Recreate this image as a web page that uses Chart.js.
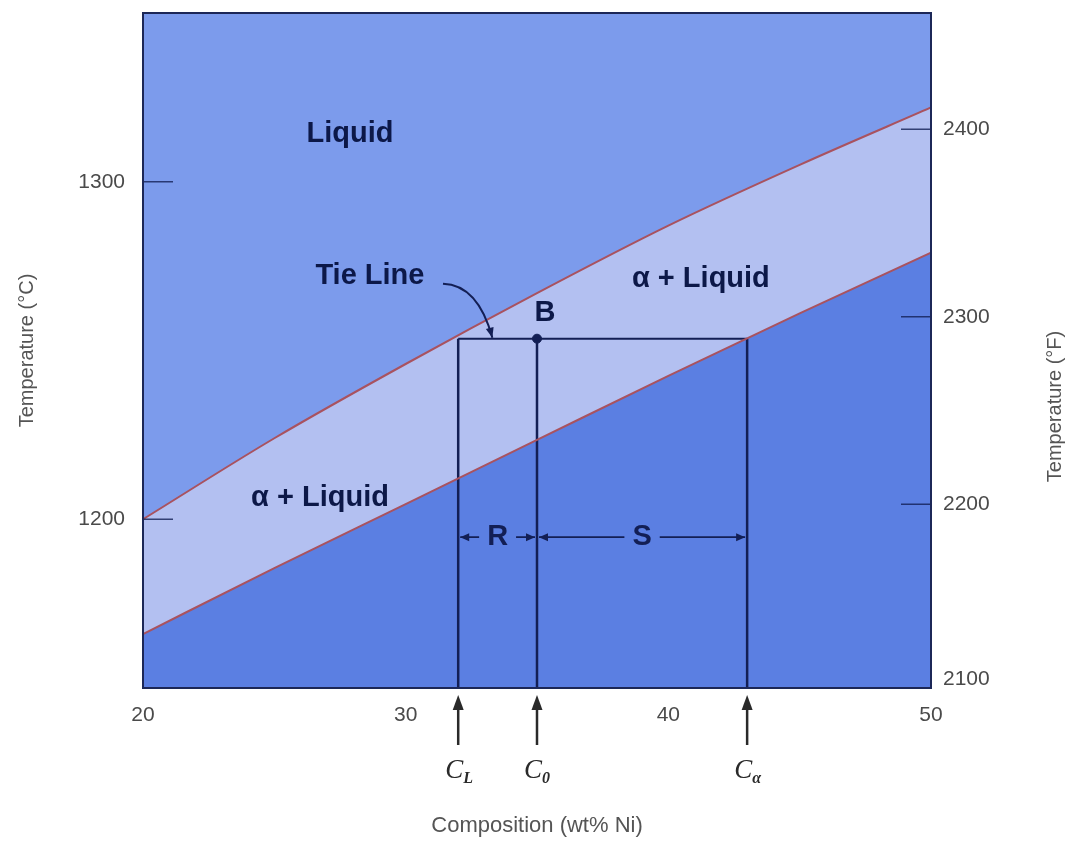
<!DOCTYPE html>
<html>
<head>
<meta charset="utf-8">
<title>Cu–Ni phase diagram: tie line and lever rule</title>
<script src="https://cdn.jsdelivr.net/npm/chart.js@4.4.1/dist/chart.umd.min.js"></script>
<style>
  html, body { margin: 0; padding: 0; background: #ffffff; }
  #wrap { width: 1072px; height: 843px; }
</style>
</head>
<body>
<div id="wrap"><canvas id="chart" width="1072" height="843"></canvas></div>
<script>
// Phase boundaries of the Cu–Ni system (wt% Ni vs °C)
const compositions = [20, 25, 30, 35, 40, 45, 50];
const liquidusC    = [1200, 1224, 1246, 1267, 1287, 1305, 1322];
const solidusC     = [1166, 1185.5, 1204.5, 1223.5, 1242.5, 1261, 1279];

// Tie line at point B and the compositions it reads off
const tieTemp = 1253.5;
const compLiquid = 32;   // C_L
const compOverall = 35;  // C_0
const compAlpha = 43;    // C_alpha
const leverTemp = 1194.7;

// Axis ranges and tick labels
const tempMin = 1150, tempMax = 1350;
const compMin = 20, compMax = 50;
const compTicks = [20, 30, 40, 50];
const celsiusTicks = [1200, 1300];
const fahrenheitTicks = [2100, 2200, 2300, 2400];
const fahrenheitTitle = 'Temperature (°F)';

// Region and construction labels (data coordinates)
const regionLabels = ['Liquid', 'Tie Line', 'α + Liquid', 'α + Liquid', 'B'];
const regionLabelX = [27.88, 28.64, 41.24, 26.74, 35.3];
const regionLabelY = [1314.2, 1272.2, 1271.3, 1206.2, 1261];

// Composition markers under the axis
const markerComps = [compLiquid, compOverall, compAlpha];
const markerSubs = ['L', '0', 'α'];

const toF = c => c * 9 / 5 + 32;

const COL_LIQUID = '#7c9bec';
const COL_TWO_PHASE = '#b3c0f1';
const COL_SOLID = '#5b7fe2';
const COL_BOUNDARY = '#a9525f';
const COL_INK = '#131f55';
const COL_TEXT = '#0c1848';
const COL_AXIS_TEXT = '#4a4a4a';
const AXIS_FONT = '"Liberation Sans", Arial, sans-serif';

const pts = (xs, ys) => xs.map((x, i) => ({ x, y: ys[i] }));

function arrowHead(ctx, tipX, tipY, dirX, dirY, len, half) {
  const m = Math.hypot(dirX, dirY) || 1;
  const ux = dirX / m, uy = dirY / m;
  const bx = tipX - ux * len, by = tipY - uy * len;
  ctx.beginPath();
  ctx.moveTo(tipX, tipY);
  ctx.lineTo(bx - uy * half, by + ux * half);
  ctx.lineTo(bx + uy * half, by - ux * half);
  ctx.closePath();
  ctx.fill();
}

// Chart area background = solid (alpha) region
const areaBackground = {
  id: 'areaBackground',
  beforeDraw(chart) {
    const { ctx, chartArea: a } = chart;
    ctx.save();
    ctx.fillStyle = COL_SOLID;
    ctx.fillRect(a.left, a.top, a.right - a.left, a.bottom - a.top);
    ctx.restore();
  }
};

// Frame, inward ticks, labels, lever-rule dimensions and composition arrows
const annotations = {
  id: 'annotations',
  afterDatasetsDraw(chart) {
    const { ctx, chartArea: a, scales } = chart;
    const xs = scales.x, ys = scales.y, y2 = scales.y2;
    ctx.save();

    // inward tick marks
    ctx.strokeStyle = 'rgba(19,31,85,0.8)';
    ctx.lineWidth = 1.5;
    ys.ticks.forEach(t => {
      const p = ys.getPixelForValue(t.value);
      if (p < a.top || p > a.bottom) return;
      ctx.beginPath(); ctx.moveTo(a.left, p); ctx.lineTo(a.left + 30, p); ctx.stroke();
    });
    y2.ticks.forEach(t => {
      const p = y2.getPixelForValue(t.value);
      if (p < a.top || p > a.bottom) return;
      ctx.beginPath(); ctx.moveTo(a.right, p); ctx.lineTo(a.right - 30, p); ctx.stroke();
    });

    // frame
    ctx.strokeStyle = '#1c2757';
    ctx.lineWidth = 2;
    ctx.strokeRect(a.left, a.top, a.right - a.left, a.bottom - a.top);

    // region labels
    ctx.fillStyle = COL_TEXT;
    ctx.font = 'bold 29px "Liberation Sans", Arial, sans-serif';
    ctx.textAlign = 'center';
    ctx.textBaseline = 'middle';
    regionLabels.forEach((txt, i) => {
      ctx.fillText(txt, xs.getPixelForValue(regionLabelX[i]), ys.getPixelForValue(regionLabelY[i]));
    });

    // curved pointer from "Tie Line" to the tie line
    ctx.strokeStyle = COL_INK;
    ctx.fillStyle = COL_INK;
    ctx.lineWidth = 2;
    const sx = xs.getPixelForValue(31.42), sy = ys.getPixelForValue(1269.8);
    const cx = xs.getPixelForValue(32.75), cy = ys.getPixelForValue(1269.5);
    const ex = xs.getPixelForValue(33.3), ey = ys.getPixelForValue(tieTemp) - 1;
    ctx.beginPath(); ctx.moveTo(sx, sy); ctx.quadraticCurveTo(cx, cy, ex, ey); ctx.stroke();
    arrowHead(ctx, ex, ey, ex - cx, ey - cy, 10, 4);

    // lever-rule dimensions R and S
    const ly = ys.getPixelForValue(leverTemp);
    const dims = [
      { from: compLiquid, to: compOverall, label: 'R' },
      { from: compOverall, to: compAlpha, label: 'S' }
    ];
    ctx.font = 'bold 29px "Liberation Sans", Arial, sans-serif';
    dims.forEach(d => {
      const x1 = xs.getPixelForValue(d.from) + 2;
      const x2 = xs.getPixelForValue(d.to) - 2;
      const mid = (x1 + x2) / 2;
      const half = ctx.measureText(d.label).width / 2 + 8;
      ctx.lineWidth = 1.6;
      ctx.beginPath();
      ctx.moveTo(x1, ly); ctx.lineTo(mid - half, ly);
      ctx.moveTo(mid + half, ly); ctx.lineTo(x2, ly);
      ctx.stroke();
      arrowHead(ctx, x1, ly, -1, 0, 9, 4);
      arrowHead(ctx, x2, ly, 1, 0, 9, 4);
      ctx.fillText(d.label, mid, ly);
    });

    // composition arrows below the axis
    ctx.strokeStyle = '#2a2a2a';
    ctx.fillStyle = '#2a2a2a';
    ctx.lineWidth = 2.5;
    markerComps.forEach((c, i) => {
      const px = xs.getPixelForValue(c);
      const top = a.bottom + 7, bot = a.bottom + 57;
      ctx.beginPath(); ctx.moveTo(px, bot); ctx.lineTo(px, top + 10); ctx.stroke();
      arrowHead(ctx, px, top, 0, -1, 15, 5.5);
      ctx.font = 'italic 27px "Liberation Serif", "Times New Roman", serif';
      ctx.textAlign = 'center';
      ctx.textBaseline = 'alphabetic';
      ctx.fillText('C', px - 4, a.bottom + 90);
      ctx.font = 'italic bold 16px "Liberation Serif", "Times New Roman", serif';
      ctx.textAlign = 'left';
      ctx.fillText(markerSubs[i], px + 5, a.bottom + 95);
    });

    // right-hand axis title, reading upward like the left one
    ctx.fillStyle = '#555555';
    ctx.font = '20px ' + AXIS_FONT;
    ctx.textAlign = 'center';
    ctx.textBaseline = 'middle';
    ctx.translate(y2.right - 17, (a.top + a.bottom) / 2 + 56);
    ctx.rotate(-Math.PI / 2);
    ctx.fillText(fahrenheitTitle, 0, 0);

    ctx.restore();
  }
};

const lineStyle = { borderColor: COL_INK, borderWidth: 2.5, pointRadius: 0, showLine: true };

// keep the plot box fixed: no extra room for overhanging tick labels
const noOverhang = s => { s.paddingTop = 0; s.paddingBottom = 0; s.paddingLeft = 0; s.paddingRight = 0; };

new Chart(document.getElementById('chart'), {
  type: 'scatter',
  data: {
    datasets: [
      {
        label: 'Liquidus',
        data: pts(compositions, liquidusC),
        showLine: true,
        cubicInterpolationMode: 'monotone',
        borderColor: COL_BOUNDARY,
        borderWidth: 2,
        pointRadius: 0,
        fill: 'end',
        backgroundColor: COL_LIQUID
      },
      {
        label: 'Solidus',
        data: pts(compositions, solidusC),
        showLine: true,
        cubicInterpolationMode: 'monotone',
        borderColor: COL_BOUNDARY,
        borderWidth: 2,
        pointRadius: 0,
        fill: '-1',
        backgroundColor: COL_TWO_PHASE
      },
      { label: 'Tie line', data: [{ x: compLiquid, y: tieTemp }, { x: compAlpha, y: tieTemp }], ...lineStyle, borderWidth: 2 },
      { label: 'C_L', data: [{ x: compLiquid, y: tieTemp }, { x: compLiquid, y: tempMin }], ...lineStyle },
      { label: 'C_0', data: [{ x: compOverall, y: tieTemp }, { x: compOverall, y: tempMin }], ...lineStyle },
      { label: 'C_alpha', data: [{ x: compAlpha, y: tieTemp }, { x: compAlpha, y: tempMin }], ...lineStyle },
      {
        label: 'B',
        data: [{ x: compOverall, y: tieTemp }],
        showLine: false,
        pointRadius: 4.5,
        pointBackgroundColor: COL_INK,
        pointBorderColor: COL_INK
      }
    ]
  },
  options: {
    responsive: false,
    animation: false,
    events: [],
    layout: { padding: { top: 13, left: 0, right: 0, bottom: 0 } },
    plugins: {
      legend: { display: false },
      tooltip: { enabled: false },
      filler: { drawTime: 'beforeDatasetsDraw' }
    },
    scales: {
      x: {
        type: 'linear',
        min: compMin,
        max: compMax,
        afterBuildTicks: s => { s.ticks = compTicks.map(v => ({ value: v })); },
        afterFit: s => { s.height = 155; noOverhang(s); },
        grid: { display: false, drawTicks: false },
        border: { display: false },
        ticks: {
          padding: 15,
          color: COL_AXIS_TEXT,
          font: { family: AXIS_FONT, size: 21 },
          callback: v => String(v)
        },
        title: {
          display: true,
          text: 'Composition (wt% Ni)',
          color: '#555555',
          font: { family: AXIS_FONT, size: 22 },
          padding: { top: 0, bottom: 4 }
        }
      },
      y: {
        type: 'linear',
        position: 'left',
        min: tempMin,
        max: tempMax,
        afterBuildTicks: s => { s.ticks = celsiusTicks.map(v => ({ value: v })); },
        afterFit: s => { s.width = 143; noOverhang(s); },
        grid: { display: false, drawTicks: false },
        border: { display: false },
        ticks: {
          padding: 18,
          color: COL_AXIS_TEXT,
          font: { family: AXIS_FONT, size: 21 },
          callback: v => String(v)
        },
        title: {
          display: true,
          text: 'Temperature (°C)',
          color: '#555555',
          font: { family: AXIS_FONT, size: 20 },
          padding: { top: 15, bottom: 0 }
        }
      },
      y2: {
        type: 'linear',
        position: 'right',
        min: toF(tempMin),
        max: toF(tempMax),
        afterBuildTicks: s => { s.ticks = fahrenheitTicks.map(v => ({ value: v })); },
        afterFit: s => { s.width = 141; noOverhang(s); },
        grid: { display: false, drawTicks: false },
        border: { display: false },
        ticks: {
          padding: 12,
          color: COL_AXIS_TEXT,
          font: { family: AXIS_FONT, size: 21 },
          // the label below the axis range is lifted clear of the corner
          callback: function (v) { return v < this.min ? [String(v), ''] : String(v); }
        },
        title: { display: false }
      }
    }
  },
  plugins: [areaBackground, annotations]
});
</script>
</body>
</html>
